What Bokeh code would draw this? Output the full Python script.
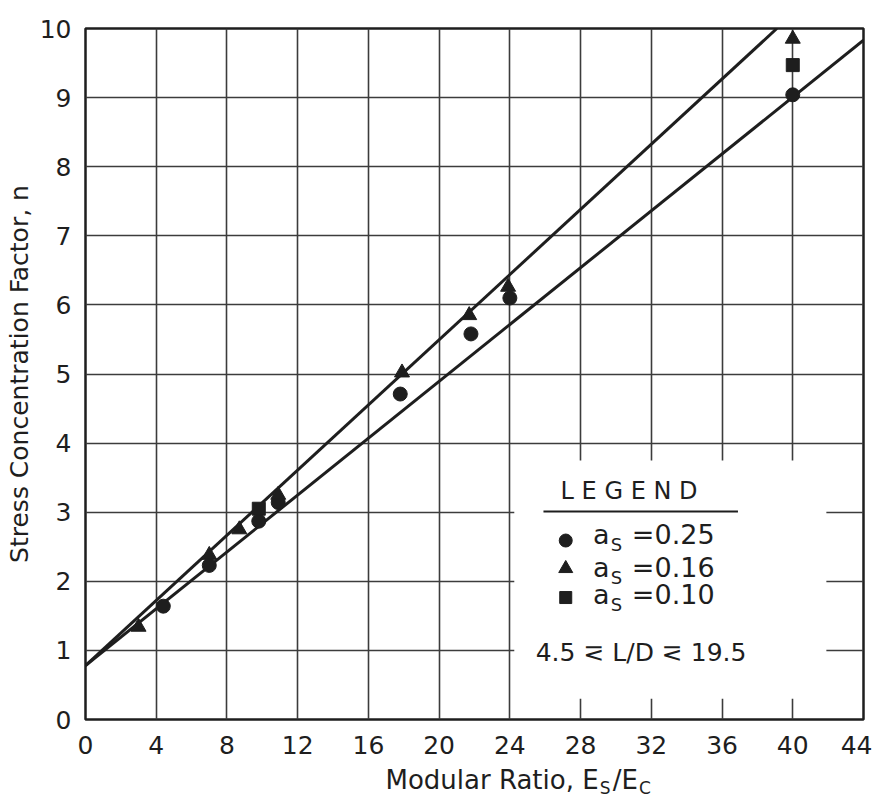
from bokeh.plotting import figure
from bokeh.models import Label, FixedTicker, Range1d
from bokeh.layouts import column
from bokeh.core.properties import value
from bokeh.embed import file_html
from bokeh.resources import INLINE

# ---- data ----
circle_x = [4.4, 7.0, 9.8, 10.9, 17.8, 21.8, 24.0, 40.0]          # a_s = 0.25
circle_y = [1.64, 2.23, 2.87, 3.14, 4.71, 5.58, 6.10, 9.04]
triangle_x = [3.0, 7.0, 8.7, 10.9, 17.9, 21.7, 23.9, 40.0]        # a_s = 0.16
triangle_y = [1.34, 2.38, 2.75, 3.25, 5.02, 5.85, 6.26, 9.85]
square_x = [9.8, 40.0]                                              # a_s = 0.10
square_y = [3.05, 9.47]

upper_line_x = [0.0, 39.1]
upper_line_y = [0.78, 10.0]
lower_line_x = [0.0, 44.0]
lower_line_y = [0.78, 9.83]

x_ticks = [0, 4, 8, 12, 16, 20, 24, 28, 32, 36, 40, 44]
y_ticks = [0, 1, 2, 3, 4, 5, 6, 7, 8, 9, 10]

legend_labels = ["=0.25", "=0.16", "=0.10"]

FONT = "DejaVu Sans"
INK = "#1e1e1e"

p = figure(width=872, height=759, output_backend="svg", toolbar_location=None,
           x_range=Range1d(0, 44), y_range=Range1d(0, 10),
           min_border_left=85, min_border_top=28, min_border_right=9, min_border_bottom=40)
p.background_fill_color = "white"
p.border_fill_color = "white"
p.outline_line_color = INK
p.outline_line_width = 2.5

p.xaxis.ticker = FixedTicker(ticks=x_ticks)
p.yaxis.ticker = FixedTicker(ticks=y_ticks)
p.xgrid.ticker = FixedTicker(ticks=x_ticks)
p.ygrid.ticker = FixedTicker(ticks=y_ticks)
for g in (p.xgrid, p.ygrid):
    g.grid_line_color = "#3c3c3c"
    g.grid_line_width = 1.6
    g.grid_line_alpha = 1.0

for ax in (p.xaxis, p.yaxis):
    ax.axis_line_color = None
    ax.major_tick_line_color = None
    ax.minor_tick_line_color = None
    ax.major_label_text_font = FONT
    ax.major_label_text_font_size = "25px"
    ax.major_label_text_color = INK
p.xaxis.major_label_standoff = 10
p.yaxis.major_label_standoff = 8

p.yaxis.axis_label = "Stress Concentration Factor, n"
p.yaxis.axis_label_text_font = FONT
p.yaxis.axis_label_text_font_size = "25px"
p.yaxis.axis_label_text_font_style = "normal"
p.yaxis.axis_label_text_color = INK
p.yaxis.axis_label_standoff = 3

# white legend panel covering grid
p.quad(left=[24.25], right=[41.9], bottom=[0.3], top=[3.75],
       fill_color="white", line_color=None)

# fitted lines
p.line(upper_line_x, upper_line_y, line_color=INK, line_width=3)
p.line(lower_line_x, lower_line_y, line_color=INK, line_width=3)

# data points
p.scatter(circle_x, circle_y, marker="circle", size=14, fill_color=INK, line_color=INK)
p.scatter(triangle_x, triangle_y, marker="triangle", size=15, fill_color=INK, line_color=INK)
p.scatter(square_x, square_y, marker="square", size=13, fill_color=INK, line_color=INK)

# ---- legend drawn by hand ----
p.add_layout(Label(x=26.87, y=3.31, text="L E G E N D", text_font=FONT, text_font_size="24px",
                   text_color=INK, text_baseline="middle", text_align="left"))
p.line([25.9, 36.9], [3.01, 3.01], line_color=INK, line_width=2.2)
marker_rows = [2.59, 2.185, 1.765]
text_rows = [2.68, 2.20, 1.81]
p.scatter([27.16], [marker_rows[0]], marker="circle", size=13, fill_color=INK, line_color=INK)
p.scatter([27.16], [marker_rows[1]], marker="triangle", size=14, fill_color=INK, line_color=INK)
p.scatter([27.16], [marker_rows[2]], marker="square", size=12, fill_color=INK, line_color=INK)
for ry, lab in zip(text_rows, legend_labels):
    p.add_layout(Label(x=28.7, y=ry, text="a", text_font=FONT, text_font_size="27px",
                       text_color=INK, text_baseline="middle", text_align="left"))
    p.add_layout(Label(x=29.7, y=ry - 0.15, text="S", text_font=FONT, text_font_size="18px",
                       text_color=INK, text_baseline="middle", text_align="left"))
    p.add_layout(Label(x=30.9, y=ry, text=lab, text_font=FONT, text_font_size="27px",
                       text_color=INK, text_baseline="middle", text_align="left"))
p.add_layout(Label(x=25.46, y=0.97, text="4.5 \u22dc L/D \u22dc 19.5", text_font=FONT,
                   text_font_size="25px", text_color=INK, text_baseline="middle", text_align="left"))

# ---- x-axis title (with subscripts) in a strip below the chart ----
q = figure(width=872, height=36, output_backend="svg", toolbar_location=None,
           x_range=p.x_range, y_range=Range1d(0, 1),
           min_border_left=85, min_border_right=9, min_border_top=0, min_border_bottom=0)
q.axis.visible = False
q.grid.visible = False
q.outline_line_color = None
q.background_fill_color = "white"
q.border_fill_color = "white"
q.text(x=[29.02], y=[0.42], text=["Modular Ratio, E"], text_font=value(FONT),
       text_font_size="26px", text_color=INK, text_align="right", text_baseline="alphabetic")
q.text(x=[29.08], y=[0.22], text=["S"], text_font=value(FONT),
       text_font_size="17px", text_color=INK, text_align="left", text_baseline="alphabetic")
q.text(x=[29.82], y=[0.42], text=["/E"], text_font=value(FONT),
       text_font_size="26px", text_color=INK, text_align="left", text_baseline="alphabetic")
q.text(x=[31.3], y=[0.22], text=["C"], text_font=value(FONT),
       text_font_size="17px", text_color=INK, text_align="left", text_baseline="alphabetic")

layout = column(p, q, spacing=0)
open("out.html", "w").write(file_html(layout, INLINE))
